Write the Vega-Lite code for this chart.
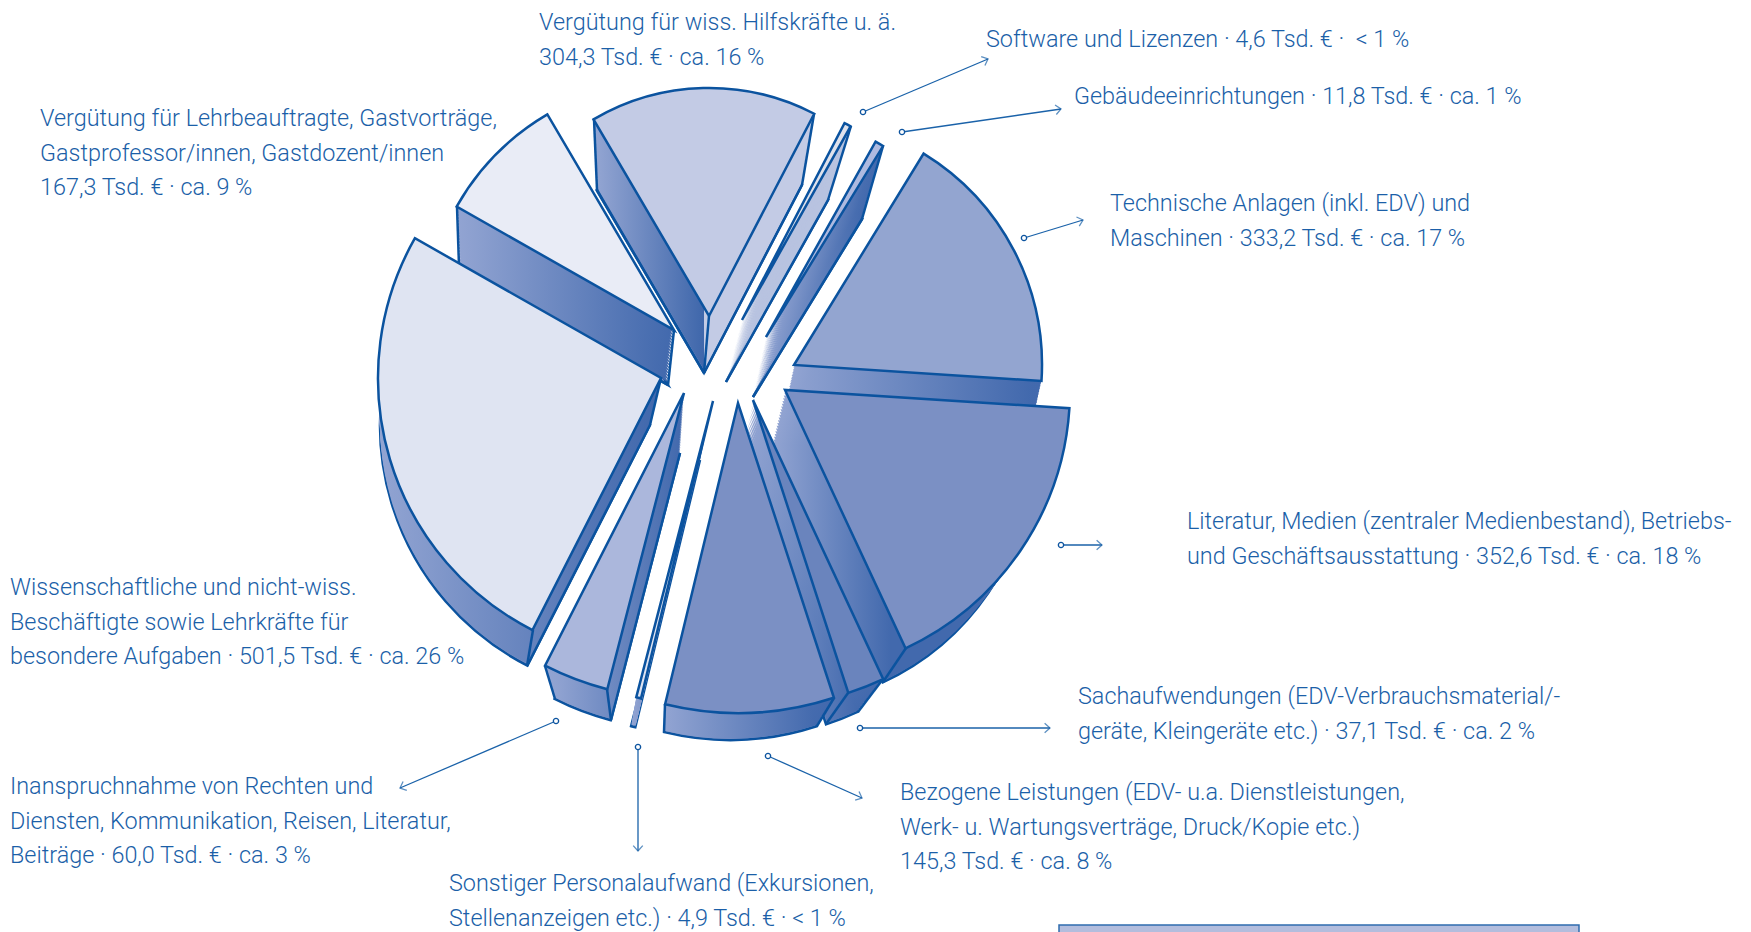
{"$schema":"https://vega.github.io/schema/vega-lite/v6.json","width":1751,"height":932,"padding":0,"autosize":{"type":"none"},"background":"white","config":{"view":{"stroke":null}},
"datasets":{"slices":[
{"name":"Software und Lizenzen","value":4.6,"i":0,"bottom":0.5,"end":0.5,"steps":[0.025,0.05,0.075,0.1,0.125,0.15,0.175,0.2,0.225,0.25,0.275,0.3,0.325,0.35,0.375,0.4,0.425,0.45,0.475],"label":["Software und Lizenzen · 4,6 Tsd. € ·\u00a0 < 1 %"]},
{"name":"Gebäudeeinrichtungen","value":11.8,"i":1,"bottom":1.5,"end":1.5,"steps":[1.025,1.05,1.075,1.1,1.125,1.15,1.175,1.2,1.225,1.25,1.275,1.3,1.325,1.35,1.375,1.4,1.425,1.45,1.475],"label":["Gebäudeeinrichtungen · 11,8 Tsd. € · ca. 1 %"]},
{"name":"Technische Anlagen","value":333.2,"i":2,"bottom":2.5,"end":2.5,"steps":[2.025,2.05,2.075,2.1,2.125,2.15,2.175,2.2,2.225,2.25,2.275,2.3,2.325,2.35,2.375,2.4,2.425,2.45,2.475],"label":["Technische Anlagen (inkl. EDV) und","Maschinen · 333,2 Tsd. € · ca. 17 %"]},
{"name":"Literatur, Medien","value":352.6,"i":3,"bottom":3.5,"end":3.5,"steps":[3.025,3.05,3.075,3.1,3.125,3.15,3.175,3.2,3.225,3.25,3.275,3.3,3.325,3.35,3.375,3.4,3.425,3.45,3.475],"label":["Literatur, Medien (zentraler Medienbestand), Betriebs-","und Geschäftsausstattung · 352,6 Tsd. € · ca. 18 %"]},
{"name":"Sachaufwendungen","value":37.1,"i":4,"bottom":4.5,"end":4.5,"steps":[4.025,4.05,4.075,4.1,4.125,4.15,4.175,4.2,4.225,4.25,4.275,4.3,4.325,4.35,4.375,4.4,4.425,4.45,4.475],"label":["Sachaufwendungen (EDV-Verbrauchsmaterial/-","geräte, Kleingeräte etc.) · 37,1 Tsd. € · ca. 2 %"]},
{"name":"Bezogene Leistungen","value":145.3,"i":5,"bottom":5.5,"end":5.5,"steps":[5.025,5.05,5.075,5.1,5.125,5.15,5.175,5.2,5.225,5.25,5.275,5.3,5.325,5.35,5.375,5.4,5.425,5.45,5.475],"label":["Bezogene Leistungen (EDV- u.a. Dienstleistungen,","Werk- u. Wartungsverträge, Druck/Kopie etc.)","145,3 Tsd. € · ca. 8 %"]},
{"name":"Sonstiger Personalaufwand","value":4.9,"i":6,"bottom":6.5,"end":6.5,"steps":[6.025,6.05,6.075,6.1,6.125,6.15,6.175,6.2,6.225,6.25,6.275,6.3,6.325,6.35,6.375,6.4,6.425,6.45,6.475],"label":["Sonstiger Personalaufwand (Exkursionen,","Stellenanzeigen etc.) · 4,9 Tsd. € · < 1 %"]},
{"name":"Inanspruchnahme","value":60.0,"i":7,"bottom":7.5,"end":7.5,"steps":[7.025,7.05,7.075,7.1,7.125,7.15,7.175,7.2,7.225,7.25,7.275,7.3,7.325,7.35,7.375,7.4,7.425,7.45,7.475],"label":["Inanspruchnahme von Rechten und","Diensten, Kommunikation, Reisen, Literatur,","Beiträge · 60,0 Tsd. € · ca. 3 %"]},
{"name":"Wissenschaftliche Beschäftigte","value":501.5,"i":8,"bottom":8.5,"end":8.5,"steps":[8.025,8.05,8.075,8.1,8.125,8.15,8.175,8.2,8.225,8.25,8.275,8.3,8.325,8.35,8.375,8.4,8.425,8.45,8.475],"label":["Wissenschaftliche und nicht-wiss.","Beschäftigte sowie Lehrkräfte für","besondere Aufgaben · 501,5 Tsd. € · ca. 26 %"]},
{"name":"Lehrbeauftragte","value":167.3,"i":9,"bottom":9.5,"end":9.5,"steps":[9.025,9.05,9.075,9.1,9.125,9.15,9.175,9.2,9.225,9.25,9.275,9.3,9.325,9.35,9.375,9.4,9.425,9.45,9.475],"label":["Vergütung für Lehrbeauftragte, Gastvorträge,","Gastprofessor/innen, Gastdozent/innen","167,3 Tsd. € · ca. 9 %"]},
{"name":"Hilfskräfte","value":304.3,"i":10,"bottom":10.5,"end":10.5,"steps":[10.025,10.05,10.075,10.1,10.125,10.15,10.175,10.2,10.225,10.25,10.275,10.3,10.325,10.35,10.375,10.4,10.425,10.45,10.475],"label":["Vergütung für wiss. Hilfskräfte u. ä.","304,3 Tsd. € · ca. 16 %"]}
],"box":[{"a":0,"b":1}],
"edges":[{"n":0,"m":0.5},{"n":1,"m":1.5},{"n":2,"m":2.5},{"n":3,"m":3.5},{"n":4,"m":4.5},{"n":5,"m":5.5},{"n":6,"m":6.5},{"n":7,"m":7.5},{"n":8,"m":8.5},{"n":9,"m":9.5},{"n":10,"m":10.5},{"n":11,"m":11.5},{"n":12,"m":12.5},{"n":13,"m":13.5},{"n":14,"m":14.5},{"n":15,"m":15.5},{"n":16,"m":16.5},{"n":17,"m":17.5},{"n":18,"m":18.5},{"n":19,"m":19.5},{"n":20,"m":20.5},{"n":21,"m":21.5},{"n":22,"m":22.5},{"n":23,"m":23.5}]},
"resolve":{"scale":{"x":"independent","y":"independent","theta":"independent","radius":"independent","fill":"independent","angle":"independent"}},
"layer":[
{"data":{"name":"slices"},"transform":[{"stack":"value","sort":[{"field":"i","order":"ascending"}],"as":["t0","t1"]}],
"mark":{"type":"arc","stroke":"#0b539f","strokeWidth":2.5,"strokeJoin":"miter"},
"encoding":{
"x":{"field":"bottom","type":"quantitative","axis":null,"scale":{"nice":false,"zero":false,"domain":[0,0.5,1,1.5,2,2.5,3,3.5,4,4.5,5,5.5,6,6.5,7,7.5,8,8.5,9,9.5,10,10.5],"range":[742,726,766,753,794,782,785,772,753,740,738,730,713,700,684,680,661,650,674,668,709,704]}},
"y":{"field":"bottom","type":"quantitative","axis":null,"scale":{"nice":false,"zero":false,"domain":[0,0.5,1,1.5,2,2.5,3,3.5,4,4.5,5,5.5,6,6.5,7,7.5,8,8.5,9,9.5,10,10.5],"range":[320,382,337,397,365,420,390,445,400,460,403,460,401,460,393,453,378,425,330,385,316,373]}},
"theta":{"field":"t0","type":"quantitative","stack":null,"scale":{"domain":[0,4.6,16.4,349.6,702.2,739.3,884.6,889.5,949.5,1451.0,1618.3,1922.6],"range":[0.480,0.511,0.550,1.635,2.705,2.827,3.379,3.395,3.613,5.229,5.752,6.763]}},
"theta2":{"field":"t1"},
"radius":{"field":"bottom","type":"quantitative","scale":{"zero":false,"nice":false,"domain":[0,0.5,1,1.5,2,2.5,3,3.5,4,4.5,5,5.5,6,6.5,7,7.5,8,8.5,9,9.5,10,10.5],"range":[222,209,224,209,248,248,285,262,308,278,310,280,306,275,306,276,283,270,250,240,228,212]}},
"radius2":{"value":0},
"fill":{"value":"#7b90c4"}
}},
{"data":{"name":"slices"},"transform":[{"stack":"value","sort":[{"field":"i","order":"ascending"}],"as":["t0","t1"]},{"flatten":["steps"]}],
"mark":{"type":"arc"},
"encoding":{
"x":{"field":"steps","type":"quantitative","axis":null,"scale":{"nice":false,"zero":false,"domain":[0,0.5,1,1.5,2,2.5,3,3.5,4,4.5,5,5.5,6,6.5,7,7.5,8,8.5,9,9.5,10,10.5],"range":[742,726,766,753,794,782,785,772,753,740,738,730,713,700,684,680,661,650,674,668,709,704]}},
"y":{"field":"steps","type":"quantitative","axis":null,"scale":{"nice":false,"zero":false,"domain":[0,0.5,1,1.5,2,2.5,3,3.5,4,4.5,5,5.5,6,6.5,7,7.5,8,8.5,9,9.5,10,10.5],"range":[320,382,337,397,365,420,390,445,400,460,403,460,401,460,393,453,378,425,330,385,316,373]}},
"theta":{"field":"t0","type":"quantitative","stack":null,"scale":{"domain":[0,4.6,16.4,349.6,702.2,739.3,884.6,889.5,949.5,1451.0,1618.3,1922.6],"range":[0.480,0.511,0.550,1.635,2.705,2.827,3.379,3.395,3.613,5.229,5.752,6.763]}},
"theta2":{"field":"t1"},
"radius":{"field":"steps","type":"quantitative","scale":{"zero":false,"nice":false,"domain":[0,0.5,1,1.5,2,2.5,3,3.5,4,4.5,5,5.5,6,6.5,7,7.5,8,8.5,9,9.5,10,10.5],"range":[222,209,224,209,248,248,285,262,308,278,310,280,306,275,306,276,283,270,250,240,228,212]}},
"radius2":{"value":0},
"fill":{"condition":[
{"test":"datum.i==10","value":{"gradient":"linear","x1":0,"x2":1,"y1":0,"y2":0,"stops":[{"offset":0,"color":"#93a5d2"},{"offset":0.52,"color":"#3f67ab"},{"offset":0.52,"color":"#c3cbe5"},{"offset":1,"color":"#c3cbe5"}]}},
{"test":"datum.i==0","value":"#b8c3e0"},
{"test":"datum.i==3","value":{"gradient":"linear","x1":0,"x2":1,"y1":0,"y2":0,"stops":[{"offset":0,"color":"#92a4d2"},{"offset":0.45,"color":"#4269ad"},{"offset":1,"color":"#4269ad"}]}}
],"value":{"gradient":"linear","x1":0,"x2":1,"y1":0,"y2":0,"stops":[{"offset":0,"color":"#92a4d2"},{"offset":1,"color":"#4269ad"}]}}
}},
{"data":{"name":"edges"},
"mark":{"type":"rule","stroke":"#0b539f","strokeWidth":2.5},
"encoding":{
"x":{"field":"n","type":"quantitative","axis":null,"scale":{"nice":false,"zero":false,"domain":[0,0.5,1,1.5,2,2.5,3,3.5,4,4.5,5,5.5,6,6.5,7,7.5,8,8.5,9,9.5,10,10.5,11,11.5,12,12.5,13,13.5,14,14.5,15,15.5,16,16.5,17,17.5,18,18.5,19,19.5,20,20.5,21,21.5,22,22.5,23,23.5],"range":[594,597,814,802,457,459,674,668,709,704,661,650,533,527,545,555,607,611,665,664,834,817,848,826,883,858,906,883,883,862,851,828,726,828,753,862,704,802,704,597,668,459,650,527,772,883,680,611]}},
"x2":{"field":"m"},
"y":{"field":"n","type":"quantitative","axis":null,"scale":{"nice":false,"zero":false,"domain":[0,0.5,1,1.5,2,2.5,3,3.5,4,4.5,5,5.5,6,6.5,7,7.5,8,8.5,9,9.5,10,10.5,11,11.5,12,12.5,13,13.5,14,14.5,15,15.5,16,16.5,17,17.5,18,18.5,19,19.5,20,20.5,21,21.5,22,22.5,23,23.5],"range":[119,190,114,185,207,266,330,385,316,373,378,425,630,666,666,699,689,720,704,732,698,726,693,724,679,712,648,682,146,219,126,200,382,200,397,219,373,185,373,190,385,266,425,666,445,682,453,720]}},
"y2":{"field":"m"}
}},
{"data":{"name":"slices"},"transform":[{"stack":"value","sort":[{"field":"i","order":"ascending"}],"as":["t0","t1"]}],
"mark":{"type":"arc","stroke":"#0b539f","strokeWidth":2.5,"strokeJoin":"miter"},
"encoding":{
"x":{"field":"i","type":"quantitative","axis":null,"scale":{"nice":false,"zero":false,"domain":[0,0.5,1,1.5,2,2.5,3,3.5,4,4.5,5,5.5,6,6.5,7,7.5,8,8.5,9,9.5,10,10.5],"range":[742,726,766,753,794,782,785,772,753,740,738,730,713,700,684,680,661,650,674,668,709,704]}},
"y":{"field":"i","type":"quantitative","axis":null,"scale":{"nice":false,"zero":false,"domain":[0,0.5,1,1.5,2,2.5,3,3.5,4,4.5,5,5.5,6,6.5,7,7.5,8,8.5,9,9.5,10,10.5],"range":[320,382,337,397,365,420,390,445,400,460,403,460,401,460,393,453,378,425,330,385,316,373]}},
"theta":{"field":"t0","type":"quantitative","stack":null,"scale":{"domain":[0,4.6,16.4,349.6,702.2,739.3,884.6,889.5,949.5,1451.0,1618.3,1922.6],"range":[0.480,0.511,0.550,1.635,2.705,2.827,3.379,3.395,3.613,5.229,5.752,6.763]}},
"theta2":{"field":"t1"},
"radius":{"field":"i","type":"quantitative","scale":{"zero":false,"nice":false,"domain":[0,0.5,1,1.5,2,2.5,3,3.5,4,4.5,5,5.5,6,6.5,7,7.5,8,8.5,9,9.5,10,10.5],"range":[222,209,224,209,248,248,285,262,308,278,310,280,306,275,306,276,283,270,250,240,228,212]}},
"radius2":{"value":0},
"fill":{"field":"name","type":"nominal","legend":null,"scale":{"domain":["Software und Lizenzen","Gebäudeeinrichtungen","Technische Anlagen","Literatur, Medien","Sachaufwendungen","Bezogene Leistungen","Sonstiger Personalaufwand","Inanspruchnahme","Wissenschaftliche Beschäftigte","Lehrbeauftragte","Hilfskräfte"],"range":["#dfe2ec","#aebae0","#93a5d0","#7b90c4","#6a84bd","#7b90c4","#dfe4f2","#abb7dc","#dfe4f2","#e9ecf6","#c3cbe5"]}}
}},
{"data":{"name":"slices"},"transform":[{"filter":{"field":"i","lte":7}}],
"mark":{"type":"rule","stroke":"#1a62a9","strokeWidth":1.3},
"encoding":{
"x":{"field":"i","type":"quantitative","axis":null,"scale":{"nice":false,"zero":false,"domain":[0,0.5,1,1.5,2,2.5,3,3.5,4,4.5,5,5.5,6,6.5,7,7.5],"range":[863,988,902,1061,1024,1083,1061,1102,860,1050,768,862,638,638,556,400]}},
"x2":{"field":"end"},
"y":{"field":"i","type":"quantitative","axis":null,"scale":{"nice":false,"zero":false,"domain":[0,0.5,1,1.5,2,2.5,3,3.5,4,4.5,5,5.5,6,6.5,7,7.5],"range":[112,59,132,109,238,220,545,545,728,728,756,798,747,851,721,788]}},
"y2":{"field":"end"}
}},
{"data":{"name":"slices"},"transform":[{"filter":{"field":"i","lte":7}}],
"mark":{"type":"point","filled":false,"fill":"white","fillOpacity":1,"stroke":"#0b539f","strokeWidth":1.3,"size":28,"shape":"circle"},
"encoding":{
"x":{"field":"i","type":"quantitative","axis":null,"scale":{"nice":false,"zero":false,"domain":[0,1,2,3,4,5,6,7],"range":[863,902,1024,1061,860,768,638,556]}},
"y":{"field":"i","type":"quantitative","axis":null,"scale":{"nice":false,"zero":false,"domain":[0,1,2,3,4,5,6,7],"range":[112,132,238,545,728,756,747,721]}}
}},
{"data":{"name":"slices"},"transform":[{"filter":{"field":"i","lte":7}}],
"mark":{"type":"point","filled":false,"stroke":"#1a62a9","strokeWidth":1.3,"size":300,"shape":"M-0.55,0.62L0,0L0.55,0.62"},
"encoding":{
"x":{"field":"end","type":"quantitative","axis":null,"scale":{"nice":false,"zero":false,"domain":[0.5,1.5,2.5,3.5,4.5,5.5,6.5,7.5],"range":[988,1061,1083,1102,1050,862,638,400]}},
"y":{"field":"end","type":"quantitative","axis":null,"scale":{"nice":false,"zero":false,"domain":[0.5,1.5,2.5,3.5,4.5,5.5,6.5,7.5],"range":[59,109,220,545,728,798,851,788]}},
"angle":{"field":"i","type":"quantitative","scale":{"domain":[0,1,2,3,4,5,6,7],"range":[67,82,73,90,90,114,180,247]}}
}},
{"data":{"name":"slices"},
"mark":{"type":"text","align":"left","baseline":"alphabetic","font":"Roboto","fontWeight":300,"fontSize":23.4,"lineHeight":34.6,"fill":"#1b5fa8"},
"encoding":{
"x":{"field":"i","type":"quantitative","axis":null,"scale":{"nice":false,"zero":false,"domain":[0,1,2,3,4,5,6,7,8,9,10],"range":[986,1074,1110,1187,1078,900,449,10,10,40,539]}},
"y":{"field":"i","type":"quantitative","axis":null,"scale":{"nice":false,"zero":false,"domain":[0,1,2,3,4,5,6,7,8,9,10],"range":[47,104,211,529,704,800,891,794,595,126,30]}},
"text":{"field":"label","type":"nominal"}
}},
{"data":{"name":"box"},
"mark":{"type":"rect","fill":"#b3bddd","stroke":"#2f6cae","strokeWidth":1.5},
"encoding":{
"x":{"field":"a","type":"quantitative","axis":null,"scale":{"nice":false,"zero":false,"domain":[0,1],"range":[1059,1579]}},
"x2":{"field":"b"},
"y":{"field":"a","type":"quantitative","axis":null,"scale":{"nice":false,"zero":false,"domain":[0,1],"range":[925,945]}},
"y2":{"field":"b"}
}}
]}
